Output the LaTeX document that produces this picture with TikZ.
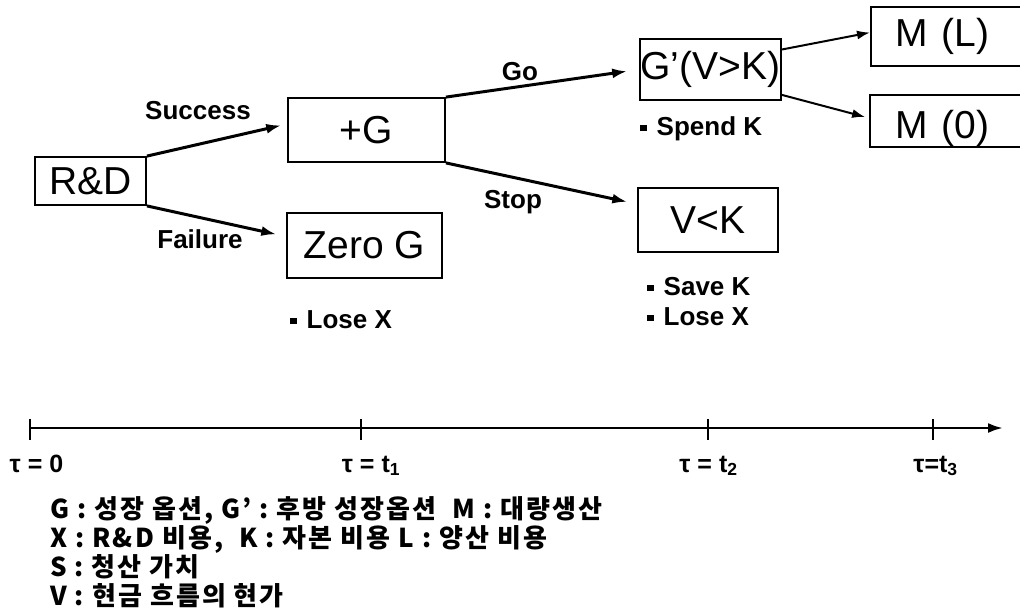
\documentclass[tikz,border=0pt]{standalone}
\usepackage{fontspec}
\setmainfont{Liberation Sans}
\newfontfamily\krfont{Noto Sans CJK KR}[LetterSpace=8]
\usetikzlibrary{arrows.meta}

\tikzset{
  stagebox/.style={draw, line width=1.8pt, inner sep=0pt, font=\fontsize{39}{42}\selectfont},
  branch/.style={line width=3pt, -{Latex[length=15pt,width=10pt]}},
  subbranch/.style={line width=2pt, -{Latex[length=13pt,width=9pt]}},
  tag/.style={font=\bfseries\fontsize{26}{30}\selectfont, anchor=base, inner sep=0pt},
  note/.style={font=\bfseries\fontsize{26}{30}\selectfont, anchor=base west, inner sep=0pt},
  timelabel/.style={font=\bfseries\fontsize{25}{30}\selectfont, anchor=base, inner sep=0pt},
  tick/.style={line width=1.5pt},
  legend/.style={font=\krfont\bfseries\fontsize{26}{28}\selectfont, anchor=base west, inner sep=0pt}
}
\newcommand{\sqbullet}{\rule[4pt]{6.5pt}{6.5pt}\hspace{10pt}}

\begin{document}
\begin{tikzpicture}[x=1pt, y=-1pt]
\useasboundingbox (0,0) rectangle (1020,614);
\clip (0,0) rectangle (1020,614);

% stages
\node[stagebox, minimum width=111pt, minimum height=48pt] (rd) at (90.5,181) {R\&D};
\node[stagebox, minimum width=157pt, minimum height=64pt] (pg) at (366.5,130) {+G};
\node[stagebox, minimum width=155pt, minimum height=65pt] (zg) at (364.5,245.5) {Zero G};
\node[stagebox, minimum width=141pt, minimum height=61pt] (gp) at (710.5,69.5) {G’(V>K)};
\node[stagebox, minimum width=140pt, minimum height=64pt] (vk) at (708,220) {V<K};
\node[stagebox, anchor=west, minimum height=59pt, text width=150pt, align=left, inner xsep=25pt] (ml) at (870,36.5) {M (L)};
\node[stagebox, anchor=west, minimum height=52pt, text width=150pt, align=left, inner xsep=26pt] (mz) at (869,121) {\raisebox{-7pt}[\height][\depth]{M (0)}};

% branches
\draw[branch, shorten >=6pt] (rd.north east) -- ([yshift=6pt]pg.west);
\draw[branch, shorten >=10pt] (rd.south east) -- ([yshift=9pt]zg.west);
\draw[branch, shorten >=12pt] (pg.north east) -- (gp.west);
\draw[branch, shorten >=10pt] (pg.south east) -- ([yshift=16pt]vk.west);
\draw[subbranch] ([yshift=20pt]gp.east) -- ([yshift=4pt]ml.west);
\draw[subbranch, shorten >=4pt] ([yshift=6pt]gp.south east) -- ([yshift=3pt]mz.west);

\node[tag] (succ) at (198,119) {Success};
\node[tag] (fail) at (200,248) {Failure};
\node[tag] (go) at (520,80) {Go};
\node[tag] (stop) at (513,208) {Stop};

% payoffs
\node[note] (zgnote) at (290,328) {\sqbullet Lose X};
\node[note] (gpnote) at (640,135) {\sqbullet Spend K};
\node[note] (vksave) at (647,295) {\sqbullet Save K};
\node[note] (vklose) at (647,325) {\sqbullet Lose X};

% time axis
\coordinate (t0) at (30,428);
\coordinate (t1) at (361,428);
\coordinate (t2) at (708,428);
\coordinate (t3) at (933,428);
\coordinate (tend) at (1003,428);
\draw[line width=2.6pt, -{Latex[length=15pt,width=10pt]}] (t0) -- (tend);
\draw[tick] ([yshift=9pt]t0) -- ([yshift=-12pt]t0);
\draw[tick] ([yshift=9pt]t1) -- ([yshift=-12pt]t1);
\draw[tick] ([yshift=9pt]t2) -- ([yshift=-12pt]t2);
\draw[tick] ([yshift=9pt]t3) -- ([yshift=-12pt]t3);

\node[timelabel] (l0) at (36.5,472) {τ = 0};
\node[timelabel] (l1) at (371,472) {τ = t\textsubscript{1}};
\node[timelabel] (l2) at (708.5,472) {τ = t\textsubscript{2}};
\node[timelabel] (l3) at (935.5,472) {τ=t\textsubscript{3}};

% legend
\node[legend] (lgG) at (50,518) {G : 성장 옵션, G’ : 후방 성장옵션\ \ M : 대량생산};
\node[legend] (lgX) at (50,547) {X : R\&D 비용,\ \ K : 자본 비용 L : 양산 비용};
\node[legend] (lgS) at (50,576) {S : 청산 가치};
\node[legend] (lgV) at (50,605) {V : 현금 흐름의 현가};
\end{tikzpicture}
\end{document}
